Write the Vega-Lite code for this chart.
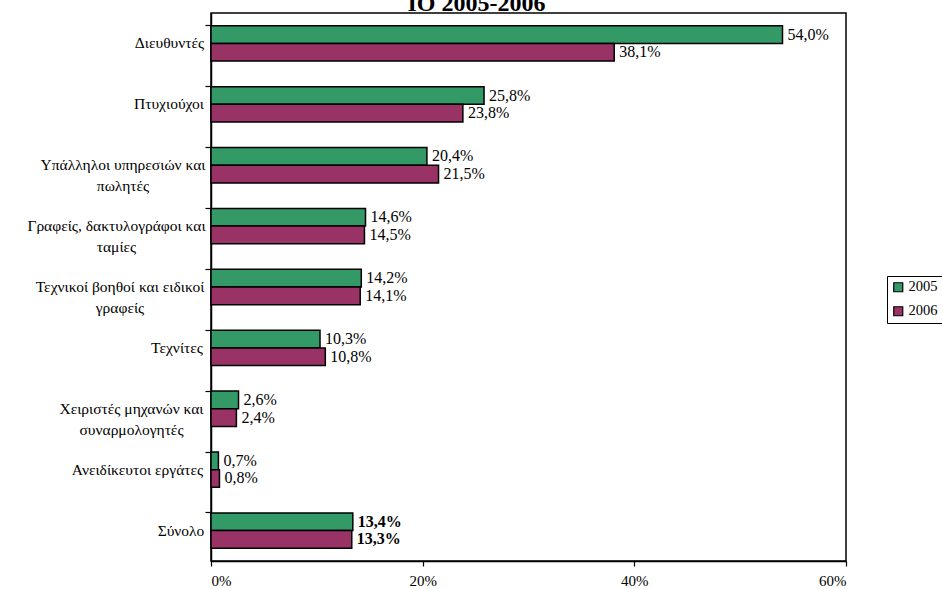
{
  "$schema": "https://vega.github.io/schema/vega-lite/v6.json",
  "width": 635,
  "height": 548,
  "autosize": {"type": "none"},
  "padding": {"left": 211, "top": 13, "right": 96, "bottom": 28},
  "background": "white",
  "config": {
    "locale": {"number": {"decimal": ",", "thousands": ".", "grouping": [3], "currency": ["", " €"]}},
    "font": "Liberation Serif",
    "view": {"stroke": "black", "strokeWidth": 1.5},
    "axis": {"domainColor": "black", "domainWidth": 1.5, "tickColor": "black", "tickWidth": 1.2, "labelColor": "black", "grid": false, "labelFont": "Liberation Serif", "labelFontSize": 15}
  },
  "title": {"text": "ΙΟ 2005-2006", "font": "Liberation Serif", "fontSize": 24, "fontWeight": "bold", "color": "black", "dx": -52, "dy": 3, "offset": 0, "frame": "group"},
  "data": {"values": [
    {"category": "Διευθυντές", "year": "2005", "value": 0.540},
    {"category": "Διευθυντές", "year": "2006", "value": 0.381},
    {"category": "Πτυχιούχοι", "year": "2005", "value": 0.258},
    {"category": "Πτυχιούχοι", "year": "2006", "value": 0.238},
    {"category": "Υπάλληλοι υπηρεσιών και\nπωλητές", "year": "2005", "value": 0.204},
    {"category": "Υπάλληλοι υπηρεσιών και\nπωλητές", "year": "2006", "value": 0.215},
    {"category": "Γραφείς, δακτυλογράφοι και\nταμίες", "year": "2005", "value": 0.146},
    {"category": "Γραφείς, δακτυλογράφοι και\nταμίες", "year": "2006", "value": 0.145},
    {"category": "Τεχνικοί βοηθοί και ειδικοί\nγραφείς", "year": "2005", "value": 0.142},
    {"category": "Τεχνικοί βοηθοί και ειδικοί\nγραφείς", "year": "2006", "value": 0.141},
    {"category": "Τεχνίτες", "year": "2005", "value": 0.103},
    {"category": "Τεχνίτες", "year": "2006", "value": 0.108},
    {"category": "Χειριστές μηχανών και\nσυναρμολογητές", "year": "2005", "value": 0.026},
    {"category": "Χειριστές μηχανών και\nσυναρμολογητές", "year": "2006", "value": 0.024},
    {"category": "Ανειδίκευτοι εργάτες", "year": "2005", "value": 0.007},
    {"category": "Ανειδίκευτοι εργάτες", "year": "2006", "value": 0.008},
    {"category": "Σύνολο", "year": "2005", "value": 0.134},
    {"category": "Σύνολο", "year": "2006", "value": 0.133}
  ]},
  "encoding": {
    "y": {
      "field": "category", "type": "nominal", "sort": null,
      "scale": {"paddingInner": 0.42, "paddingOuter": 0.21},
      "axis": {
        "title": null,
        "bandPosition": 0,
        "tickSize": 6,
        "labelFont": "Liberation Serif",
        "labelFontSize": 15.5,
        "labelAlign": "center",
        "labelBaseline": "middle",
        "labelLineHeight": 21,
        "labelOverlap": false,
        "labelBound": false,
        "labelExpr": "split(datum.value, '\\n')",
        "labelPadding": {
          "condition": [
            {"test": "datum.value == 'Διευθυντές'", "value": 36},
            {"test": "datum.value == 'Πτυχιούχοι'", "value": 36.5},
            {"test": "indexof(datum.value, 'Υπάλληλοι') >= 0", "value": 82.5},
            {"test": "indexof(datum.value, 'Γραφείς') >= 0", "value": 89},
            {"test": "indexof(datum.value, 'Τεχνικοί') >= 0", "value": 85.5},
            {"test": "datum.value == 'Τεχνίτες'", "value": 28.5},
            {"test": "indexof(datum.value, 'Χειριστές') >= 0", "value": 74},
            {"test": "datum.value == 'Ανειδίκευτοι εργάτες'", "value": 68},
            {"test": "datum.value == 'Σύνολο'", "value": 24.5}
          ],
          "value": 40
        }
      }
    },
    "yOffset": {"field": "year", "type": "nominal", "scale": {"paddingInner": 0, "paddingOuter": 0}},
    "x": {
      "field": "value", "type": "quantitative",
      "scale": {"domain": [0, 0.6], "nice": false},
      "axis": {"title": null, "format": ".0%", "values": [0, 0.2, 0.4, 0.6], "tickSize": 5, "labelPadding": 7}
    }
  },
  "layer": [
    {
      "mark": {"type": "bar", "stroke": "black", "strokeWidth": 1.5},
      "encoding": {
        "color": {
          "field": "year", "type": "nominal",
          "scale": {"domain": ["2005", "2006"], "range": ["#339966", "#993366"]},
          "legend": {
            "title": null, "orient": "none", "legendX": 676, "legendY": 263,
            "strokeColor": "black", "fillColor": "white", "padding": 4,
            "symbolType": "square", "symbolSize": 81, "symbolStrokeColor": "black", "symbolStrokeWidth": 1.2,
            "labelOffset": 3,
            "labelFont": "Liberation Serif", "labelFontSize": 14.5, "labelColor": "black", "rowPadding": 8
          }
        }
      }
    },
    {
      "transform": [{"filter": "datum.category != 'Σύνολο'"}],
      "mark": {"type": "text", "align": "left", "baseline": "middle", "dx": 5, "fontSize": 16, "font": "Liberation Serif", "color": "black"},
      "encoding": {"text": {"field": "value", "type": "quantitative", "format": ".1%"}}
    },
    {
      "transform": [{"filter": "datum.category == 'Σύνολο'"}],
      "mark": {"type": "text", "align": "left", "baseline": "middle", "dx": 5, "fontSize": 16, "fontWeight": "bold", "font": "Liberation Serif", "color": "black"},
      "encoding": {"text": {"field": "value", "type": "quantitative", "format": ".1%"}}
    }
  ]
}
